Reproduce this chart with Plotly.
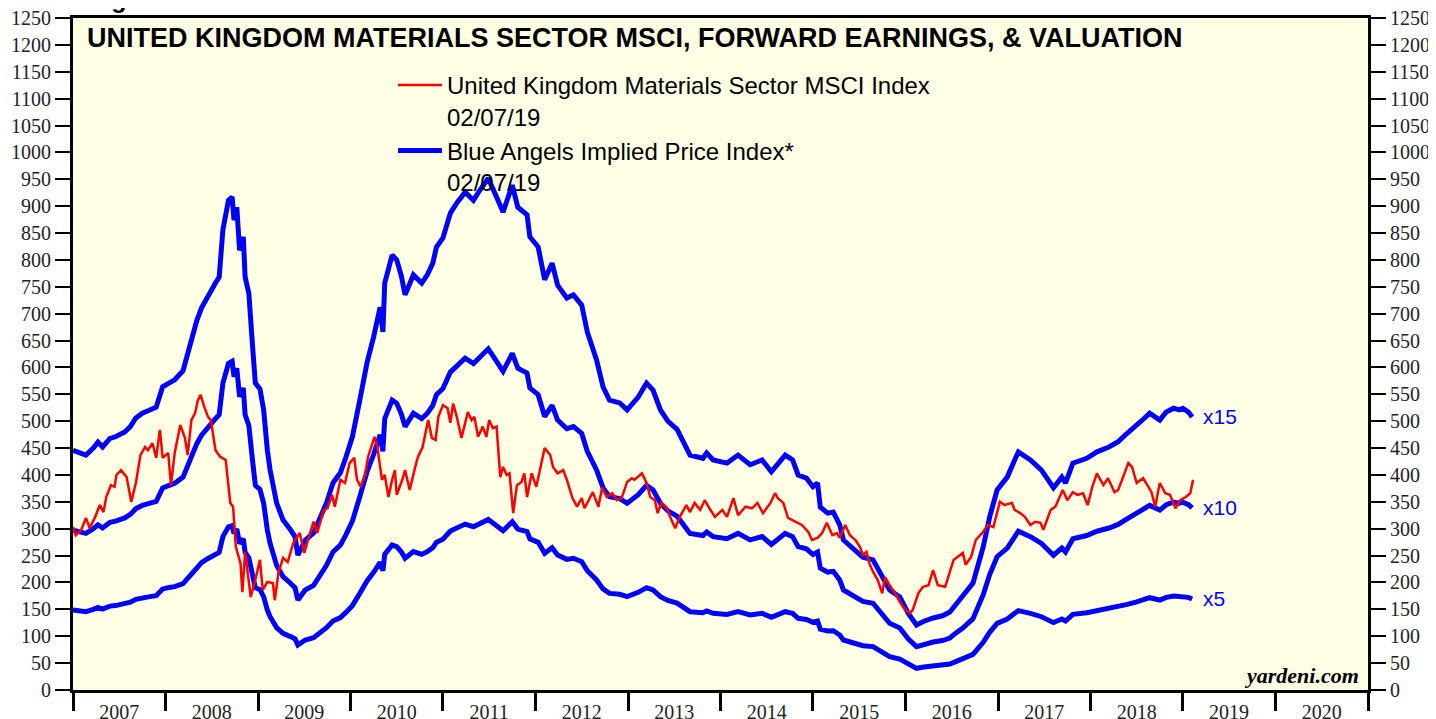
import numpy as np
import pandas as pd
import plotly.graph_objects as go

# ---------------- data ----------------
# Blue Angels implied price index at a 15x forward P/E (dates as decimal years)
blue_dates = [
    2007.00, 2007.08, 2007.14, 2007.22, 2007.27, 2007.32, 2007.40, 2007.46, 2007.56, 2007.62,
    2007.68, 2007.75, 2007.83, 2007.90, 2007.97, 2008.04, 2008.10, 2008.19, 2008.25, 2008.34,
    2008.39, 2008.45, 2008.50, 2008.54, 2008.58, 2008.62, 2008.68, 2008.72, 2008.74, 2008.77,
    2008.80, 2008.84, 2008.86, 2008.90, 2008.94, 2008.97, 2009.02, 2009.06, 2009.10, 2009.13,
    2009.20, 2009.27, 2009.35, 2009.40, 2009.43, 2009.47, 2009.51, 2009.60, 2009.67, 2009.74,
    2009.81, 2009.89, 2009.95, 2010.02, 2010.10, 2010.18, 2010.25, 2010.32, 2010.35, 2010.37,
    2010.45, 2010.50, 2010.55, 2010.59, 2010.68, 2010.77, 2010.83, 2010.89, 2010.93, 2011.00,
    2011.08, 2011.15, 2011.24, 2011.33, 2011.40, 2011.49, 2011.58, 2011.65, 2011.75, 2011.81,
    2011.91, 2011.94, 2012.03, 2012.10, 2012.18, 2012.24, 2012.34, 2012.41, 2012.50, 2012.56,
    2012.66, 2012.73, 2012.80, 2012.91, 2012.99, 2013.11, 2013.20, 2013.27, 2013.35, 2013.43,
    2013.53, 2013.60, 2013.67, 2013.81, 2013.85, 2013.92, 2014.07, 2014.19, 2014.32, 2014.45,
    2014.55, 2014.70, 2014.78, 2014.84, 2014.93, 2015.00, 2015.05, 2015.08, 2015.16, 2015.22,
    2015.29, 2015.33, 2015.43, 2015.54, 2015.65, 2015.73, 2015.83, 2015.94, 2016.03, 2016.12,
    2016.20, 2016.30, 2016.40, 2016.48, 2016.55, 2016.62, 2016.73, 2016.84, 2016.91, 2016.99,
    2017.10, 2017.18, 2017.22, 2017.35, 2017.47, 2017.60, 2017.69, 2017.73, 2017.81, 2017.96,
    2018.07, 2018.20, 2018.30, 2018.40, 2018.50, 2018.58, 2018.64, 2018.75, 2018.82, 2018.90,
    2018.96, 2019.00, 2019.06, 2019.10,
]
blue_15x = [
    446, 440, 437, 450, 461, 452, 468, 471, 480, 490,
    506, 515, 521, 526, 564, 572, 577, 594, 632, 688,
    711, 731, 745, 757, 768, 856, 911, 917, 874, 898,
    818, 843, 768, 738, 640, 571, 560, 521, 446, 409,
    348, 316, 298, 285, 251, 268, 279, 292, 318, 348,
    385, 404, 433, 471, 539, 610, 657, 712, 666, 757,
    809, 800, 770, 735, 772, 757, 772, 794, 824, 841,
    887, 906, 926, 911, 930, 952, 917, 889, 939, 898,
    884, 843, 824, 763, 794, 753, 729, 735, 716, 666,
    614, 564, 539, 534, 521, 545, 571, 558, 521, 500,
    485, 459, 437, 431, 441, 428, 422, 437, 419, 428,
    406, 437, 428, 400, 394, 378, 385, 340, 329, 331,
    307, 279, 264, 247, 242, 218, 186, 173, 143, 121,
    128, 134, 138, 145, 160, 173, 199, 266, 322, 372,
    396, 428, 443, 428, 409, 376, 396, 385, 422, 431,
    443, 452, 462, 478, 492, 505, 515, 502, 517, 524,
    521, 524, 517, 508,
]
pe_multiples = [5, 10, 15]
multiple_labels = ["x5", "x10", "x15"]

# United Kingdom Materials Sector MSCI Index
msci_dates = [
    2007.00, 2007.03, 2007.09, 2007.14, 2007.18, 2007.24, 2007.29, 2007.33, 2007.36, 2007.41,
    2007.45, 2007.47, 2007.52, 2007.58, 2007.63, 2007.68, 2007.73, 2007.78, 2007.81, 2007.86,
    2007.90, 2007.94, 2007.97, 2008.03, 2008.06, 2008.10, 2008.16, 2008.21, 2008.24, 2008.28,
    2008.32, 2008.35, 2008.38, 2008.42, 2008.46, 2008.49, 2008.54, 2008.59, 2008.65, 2008.70,
    2008.73, 2008.76, 2008.81, 2008.83, 2008.86, 2008.89, 2008.92, 2008.97, 2009.02, 2009.05,
    2009.10, 2009.16, 2009.18, 2009.22, 2009.27, 2009.32, 2009.38, 2009.45, 2009.50, 2009.55,
    2009.60, 2009.64, 2009.68, 2009.71, 2009.75, 2009.80, 2009.83, 2009.89, 2009.94, 2009.99,
    2010.04, 2010.07, 2010.11, 2010.16, 2010.19, 2010.26, 2010.29, 2010.34, 2010.37, 2010.41,
    2010.45, 2010.48, 2010.50, 2010.56, 2010.59, 2010.64, 2010.70, 2010.73, 2010.78, 2010.84,
    2010.88, 2010.92, 2010.95, 2011.00, 2011.05, 2011.08, 2011.11, 2011.15, 2011.20, 2011.24,
    2011.27, 2011.31, 2011.34, 2011.38, 2011.43, 2011.47, 2011.50, 2011.54, 2011.58, 2011.62,
    2011.65, 2011.69, 2011.72, 2011.76, 2011.80, 2011.85, 2011.88, 2011.91, 2011.96, 2012.01,
    2012.07, 2012.10, 2012.16, 2012.19, 2012.24, 2012.30, 2012.34, 2012.40, 2012.45, 2012.50,
    2012.53, 2012.59, 2012.62, 2012.68, 2012.72, 2012.77, 2012.83, 2012.88, 2012.93, 2012.99,
    2013.04, 2013.07, 2013.15, 2013.20, 2013.24, 2013.29, 2013.32, 2013.36, 2013.41, 2013.47,
    2013.51, 2013.56, 2013.63, 2013.67, 2013.72, 2013.78, 2013.83, 2013.88, 2013.94, 2014.02,
    2014.07, 2014.14, 2014.19, 2014.27, 2014.34, 2014.40, 2014.46, 2014.54, 2014.59, 2014.62,
    2014.68, 2014.73, 2014.81, 2014.88, 2014.95, 2014.99, 2015.05, 2015.10, 2015.15, 2015.21,
    2015.26, 2015.29, 2015.35, 2015.40, 2015.46, 2015.51, 2015.54, 2015.58, 2015.61, 2015.65,
    2015.70, 2015.75, 2015.78, 2015.84, 2015.89, 2015.94, 2016.00, 2016.05, 2016.08, 2016.14,
    2016.19, 2016.25, 2016.30, 2016.35, 2016.43, 2016.52, 2016.62, 2016.65, 2016.71, 2016.76,
    2016.84, 2016.89, 2016.95, 2017.02, 2017.07, 2017.15, 2017.18, 2017.24, 2017.29, 2017.35,
    2017.40, 2017.46, 2017.49, 2017.57, 2017.62, 2017.66, 2017.70, 2017.75, 2017.81, 2017.86,
    2017.92, 2017.97, 2018.02, 2018.07, 2018.14, 2018.19, 2018.26, 2018.30, 2018.35, 2018.41,
    2018.45, 2018.50, 2018.57, 2018.62, 2018.66, 2018.70, 2018.75, 2018.81, 2018.86, 2018.92,
    2018.97, 2019.03, 2019.08, 2019.11,
]
msci_values = [
    303, 288, 298, 320, 301, 322, 344, 331, 359, 381,
    378, 400, 409, 396, 350, 385, 437, 452, 446, 459,
    432, 484, 432, 441, 381, 441, 493, 469, 437, 502,
    515, 539, 549, 526, 508, 502, 446, 434, 428, 348,
    341, 266, 236, 182, 257, 218, 173, 205, 242, 186,
    201, 199, 167, 218, 246, 238, 273, 292, 255, 285,
    313, 292, 316, 335, 338, 363, 341, 391, 385, 422,
    432, 391, 378, 403, 434, 471, 452, 391, 400, 359,
    391, 409, 363, 391, 409, 372, 415, 434, 452, 502,
    469, 465, 508, 530, 524, 497, 533, 508, 469, 497,
    517, 502, 508, 471, 490, 471, 502, 487, 490, 396,
    415, 400, 403, 329, 381, 387, 403, 359, 403, 378,
    428, 450, 437, 415, 403, 409, 391, 357, 341, 357,
    338, 359, 368, 341, 376, 359, 366, 353, 357, 387,
    394, 391, 403, 385, 359, 353, 329, 348, 341, 316,
    301, 322, 344, 331, 348, 335, 353, 338, 322, 335,
    322, 357, 325, 341, 338, 348, 329, 348, 366, 357,
    348, 320, 313, 307, 294, 279, 283, 292, 311, 288,
    292, 283, 307, 288, 279, 266, 251, 257, 236, 220,
    205, 180, 210, 192, 180, 164, 149, 143, 149, 180,
    192, 195, 223, 195, 192, 242, 255, 233, 248, 279,
    294, 307, 303, 350, 344, 348, 335, 329, 322, 307,
    313, 311, 298, 335, 341, 357, 372, 353, 368, 363,
    366, 344, 378, 403, 381, 394, 368, 372, 394, 422,
    415, 385, 394, 378, 368, 341, 385, 366, 363, 338,
    353, 359, 366, 391,
]

y_ticks_max = 1250
x_start, x_end = "2007-01-01", "2021-01-01"


def to_dates(decimal_years):
    out = []
    for y in decimal_years:
        yr = int(np.floor(y))
        start = pd.Timestamp(year=yr, month=1, day=1)
        end = pd.Timestamp(year=yr + 1, month=1, day=1)
        out.append(start + (end - start) * (y - yr))
    return out


bd = to_dates(blue_dates)
md = to_dates(msci_dates)
b15 = np.array(blue_15x, dtype=float)

BLUE = "#0000FF"
RED = "#FF0000"
SANS = "Liberation Sans, Arial, sans-serif"
SERIF = "Liberation Serif, Times New Roman, serif"

fig = go.Figure()

for i, m in enumerate(pe_multiples):
    fig.add_trace(go.Scatter(
        x=bd, y=b15 * m / 15.0, mode="lines",
        line=dict(color=BLUE, width=5),
        name="Blue Angels Implied Price Index*<br>02/07/19",
        legendgroup="blue", showlegend=(m == 15), legendrank=2, hoverinfo="skip",
    ))

fig.add_trace(go.Scatter(
    x=md, y=msci_values, mode="lines", yaxis="y2",
    line=dict(color=RED, width=2.5),
    name="United Kingdom Materials Sector MSCI Index<br>02/07/19",
    legendgroup="red", legendrank=1, hoverinfo="skip",
))

# labels at the end of each multiple line
for m, lab in zip(pe_multiples, multiple_labels):
    fig.add_annotation(
        x=bd[-1], y=b15[-1] * m / 15.0, xref="x", yref="y",
        text=lab, showarrow=False, xanchor="left", yanchor="middle",
        xshift=9, font=dict(family=SANS, size=21, color=BLUE),
    )

fig.add_annotation(
    x=0.0093, y=0.970, xref="paper", yref="paper",
    text="<b>UNITED KINGDOM MATERIALS SECTOR MSCI, FORWARD EARNINGS, &amp; VALUATION</b>",
    showarrow=False, xanchor="left", yanchor="middle",
    font=dict(family=SANS, size=27, color="black"),
)
fig.add_annotation(
    x=0.0108, y=1.0045, xref="paper", yref="paper",
    text="<b>Figure 2.</b>", showarrow=False, xanchor="left", yanchor="bottom",
    font=dict(family=SANS, size=25, color="black"),
)
fig.add_annotation(
    x=0.9945, y=0.0223, xref="paper", yref="paper",
    text="<b><i>yardeni.com</i></b>", showarrow=False, xanchor="right", yanchor="middle",
    font=dict(family=SERIF, size=22, color="black"),
)

yax = dict(
    range=[0, y_ticks_max], dtick=50, tick0=0,
    ticks="outside", ticklen=15, tickwidth=2, tickcolor="black",
    showline=True, linewidth=3, linecolor="black",
    showgrid=False, zeroline=False, fixedrange=True, automargin=False,
    ticklabeloverflow="allow",
    tickfont=dict(family=SERIF, size=20, color="#222"),
)

# the page body adds an 8px offset; figure size/margins compensate for it
fig.update_layout(
    width=1428, height=711,
    margin=dict(l=65, r=68, t=10, b=29, autoexpand=False),
    paper_bgcolor="white", plot_bgcolor="#FFFFE6",
    xaxis=dict(
        type="date", range=[x_start, x_end],
        dtick="M12", tick0=x_start, ticklabelmode="period", tickformat="%Y",
        ticks="outside", ticklen=18, tickwidth=3, tickcolor="black",
        showline=True, linewidth=3, linecolor="black", mirror=True,
        showgrid=False, zeroline=False, automargin=False,
        ticklabeloverflow="allow",
        tickfont=dict(family=SERIF, size=20, color="#222"),
        ticklabelstandoff=-16,
    ),
    yaxis=dict(side="left", mirror=False, **yax),
    yaxis2=dict(side="right", overlaying="y", **yax),
    showlegend=True,
    legend=dict(
        x=0.2471, y=0.933, xanchor="left", yanchor="top",
        bgcolor="rgba(0,0,0,0)", borderwidth=0,
        font=dict(family=SANS, size=24, color="black"),
        valign="top", tracegroupgap=4, traceorder="normal", itemwidth=44,
    ),
)

fig.write_html("out.html")
